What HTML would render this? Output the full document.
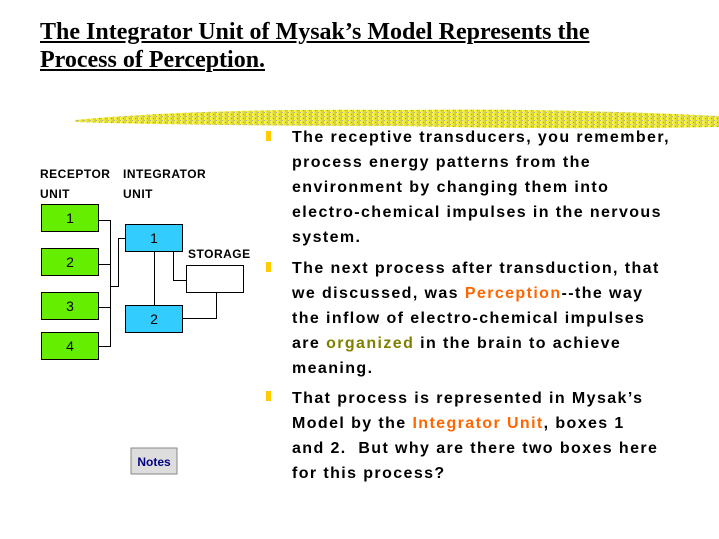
<!DOCTYPE html>
<html><head><style>
body{margin:0;width:719px;height:539px;background:#fff;position:relative;overflow:hidden;font-family:"Liberation Sans",sans-serif}
.t{position:absolute;left:40px;font-family:"Liberation Serif",serif;font-weight:bold;font-size:24px;text-decoration:underline;color:#000}
.l{position:absolute;left:292px;font-weight:bold;font-size:16px;letter-spacing:1.4px;white-space:nowrap;color:#000}
.b{position:absolute;left:266px;width:5px;height:10px;background:#ffcc00}
.o{color:#ff6600}.g{color:#808000}
.s{position:absolute;font-size:12px;font-weight:bold;letter-spacing:0.5px}
</style></head><body>
<div class="t" style="top:19px">The Integrator Unit of Mysak’s Model Represents the</div>
<div class="t" style="top:47px">Process of Perception.</div>
<svg style="position:absolute;left:0;top:0" width="719" height="539">
<defs><linearGradient id="gr" x1="0" x2="1"><stop offset="0" stop-color="#ffff30"/><stop offset="0.5" stop-color="#e8e020"/><stop offset="1" stop-color="#c8c040"/></linearGradient>
<pattern id="pt" width="6" height="4" patternUnits="userSpaceOnUse"><rect width="6" height="4" fill="url(#gr)"/><rect width="1" height="1" fill="#a0a0a0"/><rect x="3" y="2" width="1" height="1" fill="#909040"/></pattern></defs>
<path d="M75 120 Q200 108 400 110 Q560 108 719 116 L719 127 Q560 130 400 126 Q200 126 75 122Z" fill="url(#pt)" opacity="0.9"/>
<g fill="#66ee00" stroke="#000" stroke-width="1">
<rect x="41.5" y="204.5" width="57" height="27"/><rect x="41.5" y="248.5" width="57" height="27"/>
<rect x="41.5" y="292.5" width="57" height="27"/><rect x="41.5" y="332.5" width="57" height="27"/></g>
<g fill="#33ccff" stroke="#000"><rect x="125.5" y="224.5" width="57" height="27"/><rect x="125.5" y="305.5" width="57" height="27"/></g>
<rect x="186.5" y="265.5" width="57" height="27" fill="#fff" stroke="#000"/>
<g stroke="#000" fill="none">
<path d="M99 220.5H110.5V346.5H99M99 264.5H110M99 307.5H110M110 286.5H118.5V238.5H126"/>
<path d="M154.5 252V305M173.5 252V280.5H187M216.5 293V318.5H183"/>
</g>
<g font-family="Liberation Sans" font-size="14" text-anchor="middle">
<text x="70" y="223">1</text><text x="70" y="267">2</text><text x="70" y="311">3</text><text x="70" y="351">4</text>
<text x="154" y="243">1</text><text x="154" y="324">2</text></g>
<rect x="131" y="448" width="46" height="26" fill="#ddd" stroke="#888"/>
<text x="154" y="466" font-size="12" text-anchor="middle" fill="#000080" font-weight="bold">Notes</text>
</svg>
<div class="s" style="left:40px;top:167px">RECEPTOR</div><div class="s" style="left:40px;top:187px">UNIT</div>
<div class="s" style="left:123px;top:167px">INTEGRATOR</div><div class="s" style="left:123px;top:187px">UNIT</div>
<div class="s" style="left:188px;top:247px">STORAGE</div>
<div class="b" style="top:131px"></div><div class="b" style="top:262px"></div><div class="b" style="top:391px"></div>
<div class="l" style="top:129px">The receptive transducers, you remember,</div>
<div class="l" style="top:154px">process energy patterns from the</div>
<div class="l" style="top:179px">environment by changing them into</div>
<div class="l" style="top:204px">electro-chemical impulses in the nervous</div>
<div class="l" style="top:229px">system.</div>
<div class="l" style="top:260px">The next process after transduction, that</div>
<div class="l" style="top:285px">we discussed, was <span class="o">Perception</span>--the way</div>
<div class="l" style="top:310px">the inflow of electro-chemical impulses</div>
<div class="l" style="top:335px">are <span class="g">organized</span> in the brain to achieve</div>
<div class="l" style="top:360px">meaning.</div>
<div class="l" style="top:390px">That process is represented in Mysak’s</div>
<div class="l" style="top:415px">Model by the <span class="o">Integrator Unit</span>, boxes 1</div>
<div class="l" style="top:440px">and 2.&nbsp; But why are there two boxes here</div>
<div class="l" style="top:465px">for this process?</div>
</body></html>
